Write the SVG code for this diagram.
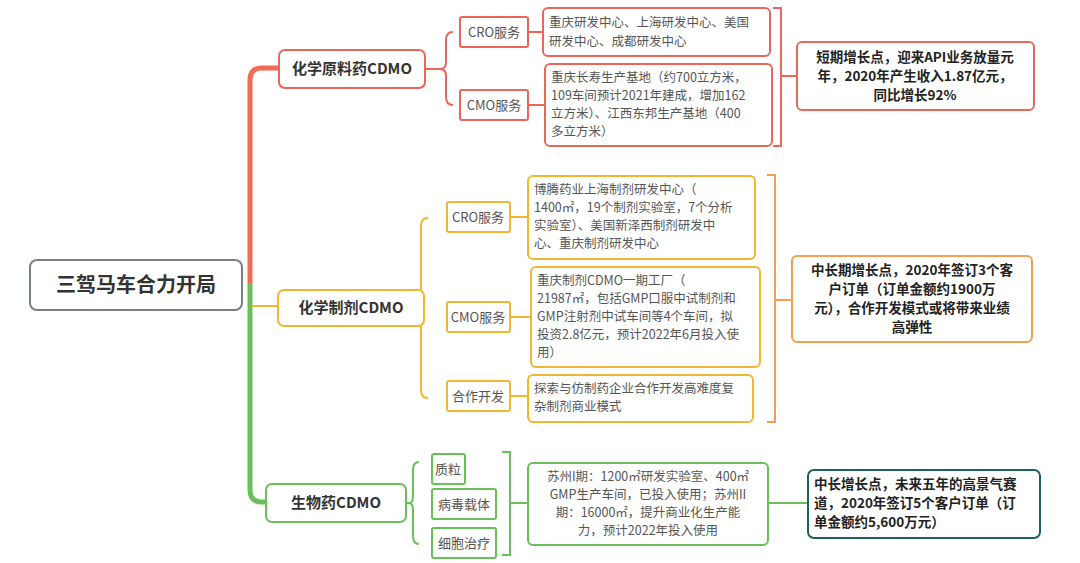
<svg xmlns="http://www.w3.org/2000/svg" width="1080" height="563" viewBox="0 0 1080 563">
<style>
text{font-family:"Noto Sans CJK SC","Liberation Sans",sans-serif;fill:#333}
.b{fill:#fff;stroke-width:2}
.r{stroke:#e8675a}.y{stroke:#f2b632}.g{stroke:#6abf5a}.o{stroke:#f0a050}
.m{font-size:15px;font-weight:bold}
.s{font-size:13px;fill:#555}
.d{font-size:12.5px;fill:#555}
.h{font-size:13.5px;font-weight:bold;fill:#222}
.ln{fill:none;stroke-width:2}
.sp{fill:none;stroke-width:5}
</style>
<g id="connectors">
<path class="sp" d="M250,283 V80 Q250,68 262,68 H279" stroke="#f26b55"/>
<path class="sp" d="M250,283 V490 Q250,502 262,502 H266" stroke="#6abf5a"/>
<path class="ln" d="M252,306 H278" stroke="#f2b632"/>
<path class="ln r" d="M425,69 H440 M453,32 Q446,32 446,40 V62 Q446,69 440,69 Q446,69 446,76 V97 Q446,105 453,105"/>
<path class="ln r" d="M528,32 H543 M528,105 H545"/>
<path class="ln r" d="M773,8 H781 V146 H773 M781,76 H797"/>
<path class="ln y" d="M424,308 H416 M428,218 Q421,218 421,226 V300 Q421,308 416,308 Q421,308 421,316 V390 Q421,398 428,398"/>
<path class="ln y" d="M510,217 H528 M510,317 H531 M510,396 H528"/>
<path class="ln o" d="M767,175 H775 V422 H767 M775,300 H792"/>
<path class="ln g" d="M406,503 H409 M419,462 Q413,462 413,470 V496 Q413,503 409,503 Q413,503 413,510 V536 Q413,544 419,544"/>
<path class="ln g" d="M502,452 H510 V555 H502 M510,503 H528 M768,503 H808"/>
</g>
<g id="root"><rect class="b" x="30" y="260" width="212" height="50" rx="7" stroke="#7a8088"/><text x="136" y="292" text-anchor="middle" font-size="20" font-weight="bold" style="fill:#333">三驾马车合力开局</text></g>
<g id="n1"><rect class="b r" x="279" y="50" width="146" height="38" rx="6"/><text class="m" x="352" y="74" text-anchor="middle">化学原料药CDMO</text></g>
<g id="n1a"><rect class="b r" x="460" y="17" width="68" height="30" rx="2"/><text class="s" x="494" y="37" text-anchor="middle">CRO服务</text></g>
<g id="n1b"><rect class="b r" x="460" y="90" width="68" height="30" rx="2"/><text class="s" x="494" y="110" text-anchor="middle">CMO服务</text></g>
<g id="n1ad"><rect class="b r" x="543" y="8" width="227" height="48" rx="5"/><text class="d" x="549" y="27">重庆研发中心、上海研发中心、美国</text><text class="d" x="549" y="46">研发中心、成都研发中心</text></g>
<g id="n1bd"><rect class="b r" x="545" y="64" width="227" height="82" rx="5"/><text class="d" x="551" y="82">重庆长寿生产基地（约700立方米，</text><text class="d" x="551" y="100">109车间预计2021年建成，增加162</text><text class="d" x="551" y="118">立方米）、江西东邦生产基地（400</text><text class="d" x="551" y="136">多立方米）</text></g>
<g id="s1"><rect class="b r" x="797" y="42" width="237" height="68" rx="5"/><text class="h" x="915" y="62" text-anchor="middle">短期增长点，迎来API业务放量元</text><text class="h" x="915" y="81" text-anchor="middle">年，2020年产生收入1.87亿元，</text><text class="h" x="915" y="100" text-anchor="middle">同比增长92%</text></g>
<g id="n2"><rect class="b y" x="278" y="290" width="146" height="36" rx="6"/><text class="m" x="351" y="313" text-anchor="middle">化学制剂CDMO</text></g>
<g id="n2a"><rect class="b y" x="447" y="202" width="63" height="30" rx="2"/><text class="s" x="478" y="222" text-anchor="middle">CRO服务</text></g>
<g id="n2b"><rect class="b y" x="447" y="302" width="63" height="30" rx="2"/><text class="s" x="478" y="322" text-anchor="middle">CMO服务</text></g>
<g id="n2c"><rect class="b y" x="447" y="381" width="63" height="30" rx="2"/><text class="s" x="478" y="401" text-anchor="middle">合作开发</text></g>
<g id="n2ad"><rect class="b y" x="528" y="176" width="227" height="83" rx="5"/><text class="d" x="534" y="194">博腾药业上海制剂研发中心（</text><text class="d" x="534" y="212">1400㎡，19个制剂实验室，7个分析</text><text class="d" x="534" y="230">实验室）、美国新泽西制剂研发中</text><text class="d" x="534" y="248">心、重庆制剂研发中心</text></g>
<g id="n2bd"><rect class="b y" x="531" y="267" width="229" height="100" rx="5"/><text class="d" x="537" y="285">重庆制剂CDMO一期工厂（</text><text class="d" x="537" y="303">21987㎡，包括GMP口服中试制剂和</text><text class="d" x="537" y="321">GMP注射剂中试车间等4个车间，拟</text><text class="d" x="537" y="339">投资2.8亿元，预计2022年6月投入使</text><text class="d" x="537" y="357">用）</text></g>
<g id="n2cd"><rect class="b y" x="528" y="375" width="225" height="47" rx="5"/><text class="d" x="534" y="393">探索与仿制药企业合作开发高难度复</text><text class="d" x="534" y="411">杂制剂商业模式</text></g>
<g id="s2"><rect class="b o" x="792" y="256" width="240" height="86" rx="5"/><text class="h" x="912" y="275" text-anchor="middle">中长期增长点，2020年签订3个客</text><text class="h" x="912" y="294" text-anchor="middle">户订单（订单金额约1900万</text><text class="h" x="912" y="313" text-anchor="middle">元），合作开发模式或将带来业绩</text><text class="h" x="912" y="332" text-anchor="middle">高弹性</text></g>
<g id="n3"><rect class="b g" x="266" y="484" width="140" height="38" rx="6"/><text class="m" x="336" y="508" text-anchor="middle">生物药CDMO</text></g>
<g id="n3a"><rect class="b g" x="432" y="454" width="33" height="30" rx="2"/><text class="s" x="448" y="474" text-anchor="middle">质粒</text></g>
<g id="n3b"><rect class="b g" x="432" y="489" width="64" height="30" rx="2"/><text class="s" x="464" y="509" text-anchor="middle">病毒载体</text></g>
<g id="n3c"><rect class="b g" x="432" y="528" width="64" height="30" rx="2"/><text class="s" x="464" y="548" text-anchor="middle">细胞治疗</text></g>
<g id="n3d"><rect class="b g" x="528" y="463" width="240" height="82" rx="5"/><text class="d" x="648" y="481" text-anchor="middle">苏州I期：1200㎡研发实验室、400㎡</text><text class="d" x="648" y="499" text-anchor="middle">GMP生产车间，已投入使用；苏州II</text><text class="d" x="648" y="517" text-anchor="middle">期：16000㎡，提升商业化生产能</text><text class="d" x="648" y="535" text-anchor="middle">力，预计2022年投入使用</text></g>
<g id="s3"><rect class="b" x="808" y="470" width="232" height="68" rx="6" stroke="#1e5f5f"/><text class="h" x="814" y="489">中长增长点，未来五年的高景气赛</text><text class="h" x="814" y="508">道，2020年签订5个客户订单（订</text><text class="h" x="814" y="527">单金额约5,600万元）</text></g>
</svg>
